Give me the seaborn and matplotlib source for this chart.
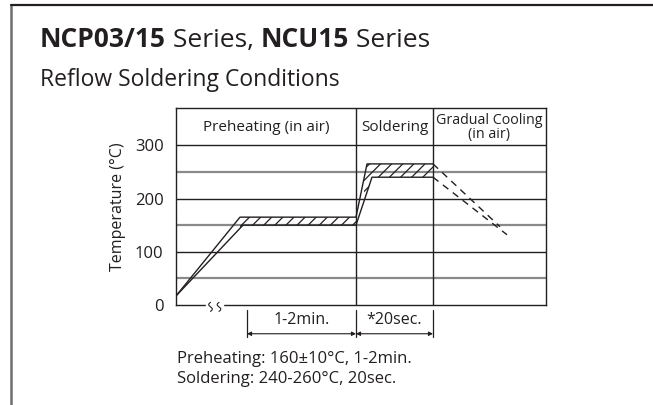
# plot.py - reflow soldering profile chart (NCP03/15, NCU15)
import numpy as np
import matplotlib
matplotlib.use("Agg")
import matplotlib.pyplot as plt
from matplotlib.lines import Line2D
import seaborn as sns

# --- data ---
# x is an arbitrary time axis (0..370), y is temperature in degC
lower_x = [0, 67, 180, 196, 257]
lower_t = [17, 150, 150, 240, 240]
upper_x = [0, 64, 180, 191, 257]
upper_t = [17, 165, 165, 265, 265]
cool_upper_x = [257, 324]
cool_upper_t = [265, 147]
cool_lower_x = [257, 331]
cool_lower_t = [240, 132]

zone_edges = [0, 180, 257, 370]
zone_labels = ["Preheating (in air)", "Soldering", "Gradual Cooling\n(in air)"]
yticks = [0, 100, 200, 300]
grid_dark = [100, 200, 300]
grid_light = [50, 150, 250]
dim_marks = [71, 180, 257]
dim_labels = ["1-2min.", "*20sec."]
notes = ["Preheating: 160\u00b110\u00b0C, 1-2min.", "Soldering: 240-260\u00b0C, 20sec."]

INK = "#231f20"
GREY = "#8a8a8a"

sns.set_theme(style="white")
plt.rcParams["font.family"] = ["Open Sans", "DejaVu Sans"]
plt.rcParams["hatch.linewidth"] = 0.9

fig = plt.figure(figsize=(6.53, 4.05), dpi=100)
W, H = 653, 405
ax = fig.add_axes([176 / W, 1 - 305 / H, 370 / W, 197 / H])
ax.set_xlim(0, 370)
ax.set_ylim(0, 370)

# grid
for t in grid_light:
    ax.axhline(t, color=GREY, lw=1.6, zorder=1)
for t in grid_dark:
    ax.axhline(t, color=INK, lw=1.0, zorder=1)
for x in zone_edges[1:-1]:
    ax.axvline(x, color=INK, lw=1.0, zorder=1)
for s in ax.spines.values():
    s.set_color(INK)
    s.set_linewidth(1.0)
    s.set_visible(True)

# zone headers
for i, lab in enumerate(zone_labels):
    xc = (zone_edges[i] + zone_edges[i + 1]) / 2
    fs = 10.3 if "\n" in lab else 11
    ax.text(xc, 334, lab, ha="center", va="center", fontsize=fs,
            color=INK, linespacing=0.9)

# profile lines
sns.lineplot(x=lower_x, y=lower_t, ax=ax, color=INK, lw=1.0, zorder=3)
sns.lineplot(x=upper_x, y=upper_t, ax=ax, color=INK, lw=1.0, zorder=3)
ax.plot(cool_upper_x, cool_upper_t, color=INK, lw=1.0, ls=(0, (5, 4)), zorder=3)
ax.plot(cool_lower_x, cool_lower_t, color=INK, lw=1.0, ls=(0, (5, 4)), zorder=3)

# hatched tolerance bands
for x0, x1 in [(upper_x[1], upper_x[2]), (upper_x[3] - 3, upper_x[4])]:
    xs = np.linspace(x0, x1, 60)
    lo = np.interp(xs, lower_x, lower_t)
    hi = np.interp(xs, upper_x, upper_t)
    ax.fill_between(xs, lo, hi, facecolor="none", edgecolor=INK,
                    hatch="///", linewidth=0, zorder=2)

# axis break on the time axis
ax.add_patch(plt.Rectangle((30, -3), 17, 6, color="white", clip_on=False, zorder=5))
tt = np.linspace(0, 1, 40)
for xb in [34.5, 43]:
    ax.plot(xb - 1.8 * np.sin(2 * np.pi * tt), 5 - 17 * tt, color=INK, lw=0.8,
            clip_on=False, zorder=6)

ax.set_xticks([])
ax.set_yticks(yticks)
ax.tick_params(axis="y", length=0, pad=9, labelsize=12, labelcolor=INK)
ax.set_ylabel("Temperature (\u00b0C)", fontsize=11.5, color=INK, labelpad=6)

# dimension lines under the axis
for x in dim_marks:
    ax.plot([x, x], [-10, -60], color=INK, lw=0.9, clip_on=False)
for (a, b), lab in zip(zip(dim_marks[:-1], dim_marks[1:]), dim_labels):
    ax.annotate("", xy=(a, -54), xytext=(b, -54), annotation_clip=False,
                arrowprops=dict(arrowstyle="<|-|>", color=INK, lw=0.8,
                                mutation_scale=6, shrinkA=0, shrinkB=0))
    ax.text((a + b) / 2, -28, lab, ha="center", va="center", fontsize=11.5,
            color=INK, clip_on=False)

# notes
for i, n in enumerate(notes):
    fig.text(177 / W, 1 - (363 + 20 * i) / H, n, ha="left", va="baseline",
             fontsize=12, color=INK)

# frame
fig.add_artist(Line2D([11 / W, 11 / W], [0, 1 - 5 / H], color="#6e6e6e", lw=1.8))
fig.add_artist(Line2D([11 / W, 1], [1 - 5 / H, 1 - 5 / H], color=INK, lw=1.6))

# title with mixed weights
fig.canvas.draw()
renderer = fig.canvas.get_renderer()
x = 40 / W
for part, wt in [("NCP03/15", "bold"), (" Series, ", "normal"),
                 ("NCU15", "bold"), (" Series", "normal")]:
    t = fig.text(x, 1 - 47 / H, part, fontsize=19, fontweight=wt,
                 color=INK, ha="left", va="baseline")
    bb = t.get_window_extent(renderer)
    x += bb.width / W
fig.text(40 / W, 1 - 86 / H, "Reflow Soldering Conditions", fontsize=16.5,
         color=INK, ha="left", va="baseline")

fig.savefig("out.png", dpi=100)
